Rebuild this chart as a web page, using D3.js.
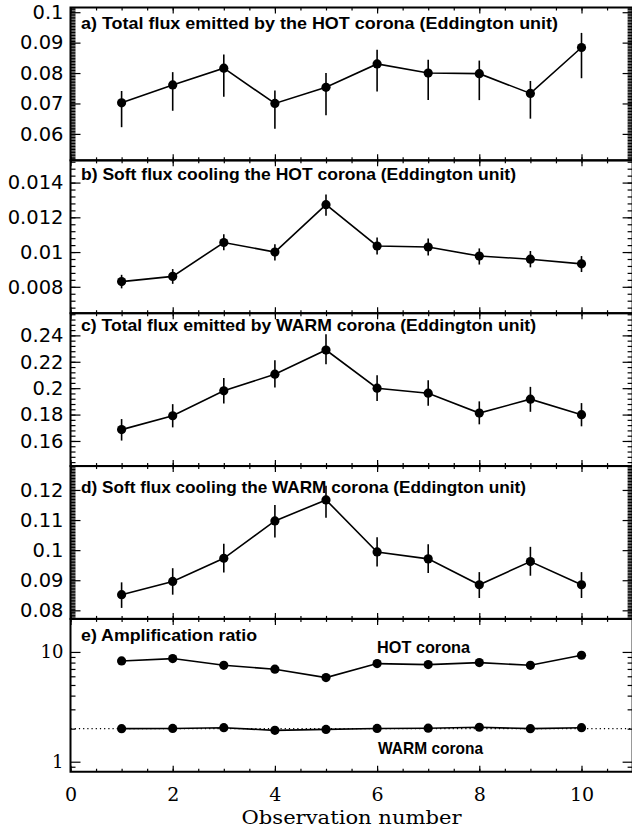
<!DOCTYPE html>
<html>
<head>
<meta charset="utf-8">
<script src="https://cdn.jsdelivr.net/npm/d3@7"></script>
<style>
  body { margin: 0; background: #fff; }
  svg { display: block; }
  .tick line { stroke: #000; stroke-width: 1.2; }
</style>
</head>
<body>
<div id="chart"></div>
<script>
// observation numbers
const obs = [1, 2, 3, 4, 5, 6, 7, 8, 9, 10];

// a) total flux emitted by the hot corona
const hotTotal   = [0.0702, 0.0761, 0.0816, 0.0700, 0.0753, 0.0830, 0.0800, 0.0798, 0.0733, 0.0884];
const hotTotalLo = [0.0622, 0.0676, 0.0722, 0.0617, 0.0661, 0.0739, 0.0711, 0.0711, 0.0650, 0.0783];
const hotTotalHi = [0.0741, 0.0803, 0.0861, 0.0743, 0.0800, 0.0877, 0.0844, 0.0841, 0.0774, 0.0932];

// b) soft flux cooling the hot corona
const hotSoft   = [0.00830, 0.00860, 0.01055, 0.01000, 0.01273, 0.01035, 0.01029, 0.00977, 0.00959, 0.00932];
const hotSoftLo = [0.00791, 0.00817, 0.01010, 0.00951, 0.01209, 0.00986, 0.00980, 0.00928, 0.00912, 0.00885];
const hotSoftHi = [0.00869, 0.00902, 0.01103, 0.01045, 0.01332, 0.01084, 0.01078, 0.01021, 0.01006, 0.00977];

// c) total flux emitted by the warm corona
const warmTotal   = [0.1686, 0.1791, 0.1980, 0.2106, 0.2289, 0.2000, 0.1962, 0.1811, 0.1917, 0.1799];
const warmTotalLo = [0.1603, 0.1703, 0.1884, 0.2005, 0.2181, 0.1902, 0.1867, 0.1726, 0.1821, 0.1711];
const warmTotalHi = [0.1766, 0.1879, 0.2078, 0.2211, 0.2408, 0.2098, 0.2060, 0.1900, 0.2010, 0.1887];

// d) soft flux cooling the warm corona
const warmSoft   = [0.0852, 0.0896, 0.0973, 0.1097, 0.1167, 0.0994, 0.0971, 0.0885, 0.0962, 0.0885];
const warmSoftLo = [0.0808, 0.0852, 0.0926, 0.1042, 0.1108, 0.0946, 0.0924, 0.0841, 0.0915, 0.0841];
const warmSoftHi = [0.0893, 0.0940, 0.1021, 0.1150, 0.1214, 0.1043, 0.1020, 0.0927, 0.1011, 0.0927];

// e) amplification ratio
const hotAmp    = [8.28, 8.70, 7.56, 6.96, 5.84, 7.83, 7.67, 8.00, 7.56, 9.33];
const hotAmpLo  = [7.95, 8.35, 7.25, 6.65, 5.55, 7.50, 7.35, 7.65, 7.25, 8.95];
const hotAmpHi  = [8.62, 9.05, 7.88, 7.28, 6.15, 8.17, 8.00, 8.35, 7.88, 9.72];
const warmAmp   = [2.00, 2.01, 2.04, 1.93, 1.97, 2.01, 2.02, 2.06, 2.00, 2.04];
const warmAmpLo = [1.93, 1.94, 1.97, 1.86, 1.90, 1.94, 1.95, 1.99, 1.93, 1.97];
const warmAmpHi = [2.07, 2.08, 2.11, 2.00, 2.04, 2.08, 2.09, 2.13, 2.07, 2.11];
const warmRef = 2;

// tick values
const xMajor = [0, 2, 4, 6, 8, 10];
const yTicksA = [0.06, 0.07, 0.08, 0.09, 0.1];
const yTicksB = [0.008, 0.01, 0.012, 0.014];
const yTicksC = [0.16, 0.18, 0.2, 0.22, 0.24];
const yTicksD = [0.08, 0.09, 0.1, 0.11, 0.12];
const yTicksE = [1, 10];
const yMinorE = [0.9, 2, 3, 4, 5, 6, 7, 8, 9, 20];

const titles = [
  "a) Total flux emitted by the HOT corona (Eddington unit)",
  "b) Soft flux cooling the HOT corona (Eddington unit)",
  "c) Total flux emitted by WARM corona (Eddington unit)",
  "d) Soft flux cooling the WARM corona (Eddington unit)",
  "e) Amplification ratio"
];

const pack = (v, lo, hi) => obs.map((x, i) => ({ x: x, v: v[i], lo: lo[i], hi: hi[i] }));

// panel setup (domains)
const panels = [
  { title: titles[0], tw: 477, ty: 21, domain: [0.0513, 0.10155], ticks: yTicksA, minor: 0.0005,
    series: [pack(hotTotal, hotTotalLo, hotTotalHi)] },
  { title: titles[1], tw: 435, ty: 20, domain: [0.00648, 0.01528], ticks: yTicksB, minor: 0.0004,
    series: [pack(hotSoft, hotSoftLo, hotSoftHi)] },
  { title: titles[2], tw: 455, ty: 18, domain: [0.141, 0.2568], ticks: yTicksC, minor: 0.004,
    series: [pack(warmTotal, warmTotalLo, warmTotalHi)] },
  { title: titles[3], tw: 445, ty: 27, domain: [0.07715, 0.12795], ticks: yTicksD, minor: 0.0005,
    series: [pack(warmSoft, warmSoftLo, warmSoftHi)] },
  { title: titles[4], tw: 176, ty: 22, domain: [0.81, 20], ticks: yTicksE, log: true,
    series: [pack(hotAmp, hotAmpLo, hotAmpHi), pack(warmAmp, warmAmpLo, warmAmpHi)] }
];

const width = 632, height = 829;
const left = 70.5, right = 632.6;
const top0 = 7.5, panelH = 152.85;

const svg = d3.select("#chart").append("svg")
  .attr("width", width)
  .attr("height", height);

const x = d3.scaleLinear().domain([0, 11]).range([left, right]);
const xMinor = d3.range(0, 11.01, 0.5);

const fmt = d => String(+d.toFixed(4));

function minorTicks(dom, step) {
  const k0 = Math.ceil(dom[0] / step - 1e-6), k1 = Math.floor(dom[1] / step + 1e-6);
  return d3.range(k0, k1 + 1).map(k => +(k * step).toFixed(6));
}

panels.forEach((p, i) => {
  const top = top0 + i * panelH, bottom = top + panelH;
  const y = (p.log ? d3.scaleLog() : d3.scaleLinear()).domain(p.domain).range([bottom, top]);
  const g = svg.append("g");
  const isLast = i === panels.length - 1;

  // y minor ticks
  const yMin = p.log ? yMinorE : minorTicks(p.domain, p.minor);
  g.append("g").attr("transform", `translate(${left},0)`)
    .call(d3.axisLeft(y).tickValues(yMin).tickSize(-5).tickFormat(""));
  g.append("g").attr("transform", `translate(${right},0)`)
    .call(d3.axisRight(y).tickValues(yMin).tickSize(-5).tickFormat(""));

  // y major ticks with labels
  const yl = g.append("g").attr("transform", `translate(${left},0)`)
    .call(d3.axisLeft(y).tickValues(p.ticks).tickSize(-10).tickPadding(7).tickFormat(fmt));
  yl.selectAll("text")
    .style("font-family", p.log ? "'DejaVu Serif', serif" : "'DejaVu Sans', sans-serif")
    .style("font-size", p.log ? "18px" : "19.5px")
    .attr("fill", "#000");
  g.append("g").attr("transform", `translate(${right},0)`)
    .call(d3.axisRight(y).tickValues(p.ticks).tickSize(-10).tickFormat(""));

  // x ticks top and bottom
  g.append("g").attr("transform", `translate(0,${top})`)
    .call(d3.axisTop(x).tickValues(xMinor).tickSize(-3).tickFormat(""));
  g.append("g").attr("transform", `translate(0,${top})`)
    .call(d3.axisTop(x).tickValues(xMajor).tickSize(-6).tickFormat(""));
  g.append("g").attr("transform", `translate(0,${bottom})`)
    .call(d3.axisBottom(x).tickValues(xMinor).tickSize(-3).tickFormat(""));
  const xb = g.append("g").attr("transform", `translate(0,${bottom})`)
    .call(d3.axisBottom(x).tickValues(xMajor).tickSize(-6).tickPadding(16)
      .tickFormat(isLast ? d3.format("d") : ""));
  xb.selectAll("text")
    .style("font-family", "'DejaVu Serif', serif")
    .style("font-size", "19px")
    .attr("fill", "#000");

  g.selectAll(".domain").remove();

  // frame
  g.append("rect")
    .attr("x", left).attr("y", top)
    .attr("width", right - left).attr("height", panelH)
    .attr("fill", "none").attr("stroke", "#000").attr("stroke-width", 2);

  // dotted reference line in the ratio panel
  if (p.log) {
    g.append("line")
      .attr("x1", left).attr("x2", right)
      .attr("y1", y(warmRef)).attr("y2", y(warmRef))
      .attr("stroke", "#000").attr("stroke-width", 1.2)
      .attr("stroke-dasharray", "1.2,3");
  }

  // title
  g.append("text")
    .attr("x", 81).attr("y", top + p.ty)
    .attr("textLength", p.tw).attr("lengthAdjust", "spacingAndGlyphs")
    .style("font-family", "'Liberation Sans', Arial, sans-serif")
    .style("font-weight", "bold")
    .style("font-size", "17px")
    .text(p.title);

  // data
  const line = d3.line().x(d => x(d.x)).y(d => y(d.v));
  p.series.forEach(s => {
    g.append("path").datum(s)
      .attr("d", line)
      .attr("fill", "none").attr("stroke", "#000").attr("stroke-width", 1.6);
    g.selectAll(null).data(s).join("line")
      .attr("x1", d => x(d.x)).attr("x2", d => x(d.x))
      .attr("y1", d => y(d.lo)).attr("y2", d => y(d.hi))
      .attr("stroke", "#000").attr("stroke-width", 1.6);
    g.selectAll(null).data(s).join("circle")
      .attr("cx", d => x(d.x)).attr("cy", d => y(d.v))
      .attr("r", 4.6).attr("fill", "#000");
  });

  if (p.log) {
    g.append("text")
      .attr("x", x(6)).attr("y", top + 34)
      .attr("textLength", 93).attr("lengthAdjust", "spacingAndGlyphs")
      .style("font-family", "'Liberation Sans', Arial, sans-serif")
      .style("font-weight", "bold").style("font-size", "17px")
      .text("HOT corona");
    g.append("text")
      .attr("x", x(6) + 1).attr("y", top + 135)
      .attr("textLength", 105).attr("lengthAdjust", "spacingAndGlyphs")
      .style("font-family", "'Liberation Sans', Arial, sans-serif")
      .style("font-weight", "bold").style("font-size", "17px")
      .text("WARM corona");
  }

  if (isLast) {
    svg.append("text")
      .attr("x", x(5.5)).attr("y", bottom + 52)
      .attr("text-anchor", "middle")
      .attr("textLength", 220).attr("lengthAdjust", "spacingAndGlyphs")
      .style("font-family", "'DejaVu Serif', serif")
      .style("font-size", "19px")
      .text("Observation number");
  }
});
</script>
</body>
</html>
